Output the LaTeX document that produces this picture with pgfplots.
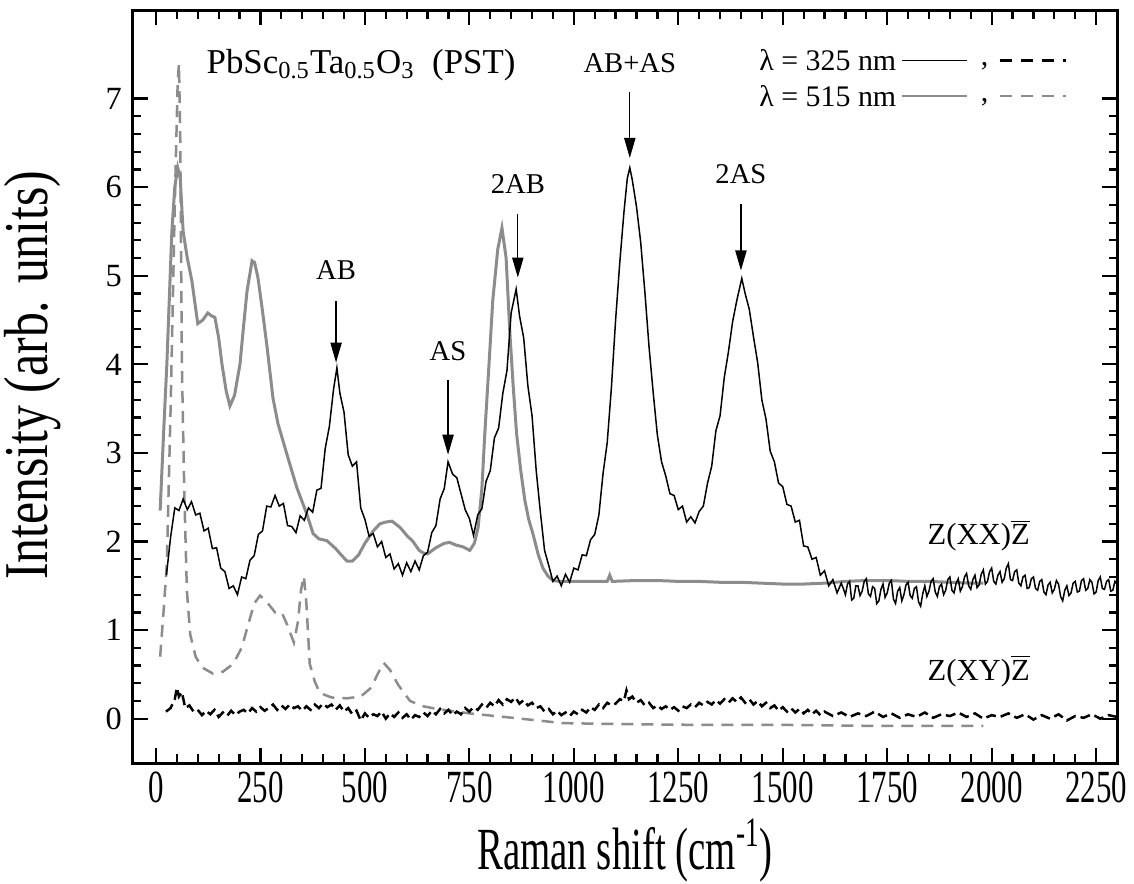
\documentclass[border=0pt]{standalone}
\usepackage{pgfplots}
\pgfplotsset{compat=1.18}
\usetikzlibrary{arrows.meta}
\usepackage{fontspec}
\setmainfont{Liberation Serif}
\newfontfamily\condfont{Liberation Serif}[FakeStretch=0.67]
\newfontfamily\labfont{Liberation Serif}[FakeStretch=0.65]
\newfontfamily\ylabfont{Liberation Serif}[FakeStretch=0.8]
\definecolor{lgray}{RGB}{140,140,140}
\begin{document}
\begin{tikzpicture}
\useasboundingbox (-53.2bp,-48.4bp) rectangle (400.4bp,305.2bp);
\begin{axis}[
  at={(0,0)}, anchor=south west,
  scale only axis, width=393.6bp, height=301.2bp,
  xmin=-55, xmax=2300, ymin=-0.5, ymax=8,
  xtick={0,250,...,2250}, ytick={0,1,...,7},
  minor x tick num=4, minor y tick num=4,
  tick align=inside,
  major tick length=6bp, minor tick length=3.4bp,
  every tick/.style={black, line width=0.9bp},
  axis line style={line width=1.2bp},
  /pgf/number format/assume math mode=true,
  /pgf/number format/1000 sep={},
  xticklabel style={font=\condfont\fontsize{18.5}{20}\selectfont},
  yticklabel style={font=\fontsize{13}{14}\selectfont, xshift=-1bp},
  xlabel={\labfont\fontsize{24}{26}\selectfont Raman shift (cm\textsuperscript{-1})},
  ylabel={\ylabfont\fontsize{25}{27}\selectfont Intensity (arb. units)},
  xlabel style={at={(axis description cs:0.5,-0.116)}, anchor=center},
  ylabel style={at={(axis description cs:-0.102,0.515)}, anchor=center},
  clip=true,
]
% gray solid: lambda = 515 nm, Z(XX)Z
\addplot[lgray, line width=1.2bp] coordinates {
(10,2.35) (18,3.2) (26,4.0) (38,5.5) (45,6.0) (52,6.22) (58,6.1) (65,5.5) (75,5.2) (86,4.94)
(100,4.46) (112,4.5) (124,4.58) (132,4.55) (141,4.53) (150,4.3) (158,4.0) (168,3.7) (177,3.53)
(188,3.65) (201,4.0) (210,4.45) (218,4.83) (230,5.17) (236,5.15) (244,4.98) (255,4.6) (266,4.19)
(280,3.62) (292,3.33) (313,2.99) (337,2.61) (361,2.31) (376,2.09) (390,2.03) (409,2.01) (430,1.92)
(445,1.84) (457,1.78) (470,1.78) (485,1.85) (500,1.98) (520,2.12) (536,2.2) (550,2.22) (565,2.23)
(584,2.16) (600,2.07) (615,2.0) (630,1.9) (640,1.87) (650,1.86) (670,1.93) (690,1.98) (703,1.99)
(718,1.96) (735,1.94) (751,1.9) (762,1.98) (771,2.16) (780,2.6) (787,3.22) (797,4.0) (806,4.72)
(818,5.3) (828,5.54) (838,5.2) (847,4.35) (855,3.75) (863,3.22) (873,2.8) (883,2.46) (892,2.25)
(902,2.09) (915,1.85) (926,1.70) (938,1.61) (950,1.56) (965,1.55) (980,1.55) (1000,1.55)
(1040,1.55) (1080,1.55) (1086,1.62) (1092,1.55) (1150,1.56) (1200,1.56) (1250,1.55) (1300,1.55)
(1350,1.54) (1400,1.54) (1450,1.53) (1500,1.52) (1550,1.52) (1600,1.53) (1650,1.55) (1700,1.56)
(1750,1.56) (1800,1.55) (1850,1.55) (1900,1.54) (1950,1.53) (1980,1.53)
};
% gray dashed: lambda = 515 nm, Z(XY)Z
\addplot[lgray, line width=1bp, dash pattern=on 4.8bp off 3.2bp] coordinates {
(10,0.70) (18,1.2) (26,1.75) (35,3.5) (45,5.8) (52,7.2) (55,7.39) (58,6.6) (62,4.0) (68,2.5)
(74,1.44) (82,0.95) (95,0.7) (110,0.58) (136,0.51) (160,0.53) (185,0.62) (205,0.8) (220,1.05)
(235,1.3) (249,1.39) (265,1.32) (285,1.2) (301,1.2) (315,1.05) (330,0.86) (340,1.1) (347,1.45)
(354,1.61) (360,1.3) (368,0.62) (380,0.42) (392,0.29) (420,0.24) (457,0.23) (490,0.25) (515,0.35)
(530,0.5) (545,0.63) (560,0.55) (580,0.38) (608,0.2) (640,0.14) (672,0.11) (750,0.06) (854,0.01)
(974,-0.05) (1100,-0.06) (1300,-0.07) (1500,-0.07) (1700,-0.08) (1900,-0.08) (1980,-0.08)
};
% black solid: lambda = 325 nm, Z(XX)Z
\addplot[black, line width=0.6bp] coordinates {
(25,1.62) (35,2.05) (45,2.38) (55,2.35) (65,2.48) (75,2.36) (85,2.45) (95,2.30) (105,2.32) (115,2.12)
(125,2.15) (135,1.92) (145,1.93) (155,1.70) (165,1.66) (175,1.47) (185,1.50) (195,1.40) (205,1.60)
(215,1.58) (225,1.79) (235,1.84) (245,2.08) (255,2.12) (265,2.40) (275,2.39) (285,2.52) (295,2.40)
(305,2.43) (315,2.18) (325,2.17) (335,2.10) (345,2.29) (355,2.24) (365,2.38) (375,2.33) (385,2.58)
(395,2.60) (405,3.05) (415,3.30) (425,3.72) (433,3.96) (440,3.68) (450,3.46) (460,2.98) (470,2.85)
(480,2.90) (490,2.38) (500,2.25) (510,2.06) (520,2.09) (530,1.94) (540,2.00) (550,1.82) (560,1.86)
(570,1.69) (580,1.75) (590,1.62) (600,1.76) (610,1.66) (620,1.78) (630,1.68) (640,1.84) (650,1.88)
(660,2.10) (670,2.18) (680,2.48) (690,2.60) (699,2.90) (710,2.76) (720,2.72) (730,2.54) (740,2.36)
(750,2.26) (760,2.07) (770,2.30) (780,2.37) (790,2.68) (800,2.80) (810,3.17) (820,3.28) (830,3.67)
(840,3.93) (850,4.58) (862,4.85) (870,4.55) (880,4.30) (890,3.76) (900,3.42) (910,2.80) (920,2.33)
(930,1.90) (940,1.73) (950,1.55) (960,1.61) (970,1.50) (980,1.63) (990,1.54) (1000,1.70) (1010,1.68)
(1020,1.85) (1030,1.84) (1040,2.02) (1050,2.08) (1060,2.30) (1070,2.77) (1080,3.12) (1090,3.74)
(1100,4.50) (1110,5.15) (1120,5.72) (1128,6.10) (1134,6.22) (1140,6.08) (1150,5.78) (1160,5.38)
(1170,4.82) (1180,4.20) (1190,3.68) (1200,3.20) (1210,2.90) (1220,2.74) (1230,2.54) (1240,2.52)
(1250,2.36) (1260,2.40) (1270,2.22) (1280,2.28) (1290,2.21) (1300,2.34) (1310,2.40) (1320,2.66)
(1330,2.85) (1340,3.25) (1350,3.42) (1360,3.85) (1370,4.14) (1380,4.48) (1390,4.72) (1402,4.97)
(1410,4.80) (1420,4.62) (1430,4.31) (1440,4.02) (1450,3.60) (1460,3.38) (1470,3.02) (1480,2.90)
(1490,2.66) (1500,2.62) (1510,2.42) (1520,2.40) (1530,2.22) (1540,2.24) (1550,1.95) (1560,1.94)
(1570,1.80) (1580,1.82) (1590,1.62) (1600,1.67) (1610,1.50) (1620,1.57) (1630,1.42) (1640,1.53)
(1645,1.47) (1650,1.40) (1655,1.52) (1660,1.55) (1665,1.34) (1670,1.36) (1675,1.50) (1680,1.50)
(1685,1.39) (1690,1.44) (1695,1.55) (1700,1.58) (1705,1.41) (1710,1.38) (1715,1.49) (1720,1.47)
(1725,1.30) (1730,1.33) (1735,1.46) (1740,1.52) (1745,1.37) (1750,1.42) (1755,1.53) (1760,1.56)
(1765,1.35) (1770,1.30) (1775,1.44) (1780,1.48) (1785,1.33) (1790,1.40) (1795,1.51) (1800,1.54)
(1805,1.39) (1810,1.36) (1815,1.47) (1820,1.49) (1825,1.32) (1830,1.27) (1835,1.41) (1840,1.50)
(1845,1.38) (1850,1.44) (1855,1.55) (1860,1.58) (1865,1.43) (1870,1.38) (1875,1.49) (1880,1.52)
(1885,1.40) (1890,1.45) (1895,1.57) (1900,1.60) (1905,1.45) (1910,1.42) (1915,1.53) (1920,1.58)
(1925,1.44) (1930,1.49) (1935,1.60) (1940,1.64) (1945,1.50) (1950,1.46) (1955,1.57) (1960,1.62)
(1965,1.48) (1970,1.51) (1975,1.63) (1980,1.68) (1985,1.52) (1990,1.55) (1995,1.66) (2000,1.70)
(2005,1.55) (2010,1.52) (2015,1.62) (2020,1.66) (2025,1.54) (2030,1.58) (2035,1.70) (2040,1.75)
(2045,1.57) (2050,1.56) (2055,1.66) (2060,1.68) (2065,1.53) (2070,1.50) (2075,1.60) (2080,1.62)
(2085,1.47) (2090,1.48) (2095,1.58) (2100,1.60) (2105,1.47) (2110,1.45) (2115,1.55) (2120,1.57)
(2125,1.43) (2130,1.40) (2135,1.51) (2140,1.54) (2145,1.42) (2150,1.46) (2155,1.56) (2160,1.52)
(2165,1.38) (2170,1.33) (2175,1.45) (2180,1.50) (2185,1.39) (2190,1.42) (2195,1.53) (2200,1.55)
(2205,1.43) (2210,1.44) (2215,1.56) (2220,1.58) (2225,1.45) (2230,1.47) (2235,1.57) (2240,1.54)
(2245,1.41) (2250,1.43) (2255,1.56) (2260,1.60) (2265,1.47) (2270,1.46) (2275,1.55) (2280,1.57)
(2285,1.44) (2290,1.45) (2295,1.55) (2300,1.52)
};
% black dashed: lambda = 325 nm, Z(XY)Z
\addplot[black, line width=1bp, dash pattern=on 4bp off 2bp] coordinates {
(24,0.08) (35,0.12) (45,0.22) (50,0.35) (55,0.25) (62,0.30) (70,0.12) (80,0.15) (90,0.08) (100,0.10)
(110,0.04) (120,0.09) (130,0.05) (140,0.10) (150,0.02) (160,0.07) (170,0.03) (180,0.09) (190,0.04)
(200,0.08) (210,0.10) (220,0.06) (230,0.12) (240,0.08) (250,0.13) (260,0.09) (270,0.12) (280,0.16)
(290,0.10) (300,0.15) (310,0.11) (320,0.16) (330,0.12) (340,0.14) (350,0.09) (360,0.14) (370,0.10)
(380,0.16) (390,0.12) (400,0.17) (410,0.13) (420,0.16) (430,0.10) (440,0.15) (450,0.08) (460,0.12)
(470,0.05) (480,0.09) (490,-0.02) (500,0.06) (510,0.01) (520,0.05) (530,0.03) (540,0.08) (550,0.00)
(560,0.06) (570,0.02) (580,0.07) (590,0.01) (600,0.05) (610,-0.01) (620,0.04) (630,0.02) (640,0.07)
(650,0.03) (660,0.09) (670,0.05) (680,0.11) (690,0.06) (700,0.10) (710,0.04) (720,0.08) (730,0.05)
(740,0.12) (750,0.08) (760,0.13) (770,0.10) (780,0.16) (790,0.12) (800,0.18) (810,0.14) (820,0.21)
(830,0.16) (840,0.22) (850,0.19) (860,0.24) (870,0.17) (880,0.21) (890,0.15) (900,0.18) (910,0.12)
(920,0.14) (930,0.08) (940,0.11) (950,0.05) (960,0.09) (970,0.04) (980,0.07) (990,0.03) (1000,0.08)
(1010,0.05) (1020,0.10) (1030,0.07) (1040,0.13) (1050,0.10) (1060,0.16) (1070,0.12) (1080,0.18)
(1090,0.15) (1100,0.17) (1110,0.22) (1120,0.20) (1126,0.32) (1132,0.22) (1140,0.25) (1150,0.18)
(1160,0.21) (1170,0.15) (1180,0.18) (1190,0.12) (1200,0.15) (1210,0.11) (1220,0.14) (1230,0.10)
(1240,0.13) (1250,0.09) (1260,0.14) (1270,0.12) (1280,0.16) (1290,0.13) (1300,0.18) (1310,0.15)
(1320,0.19) (1330,0.16) (1340,0.21) (1350,0.17) (1360,0.22) (1370,0.18) (1380,0.23) (1390,0.19)
(1400,0.24) (1410,0.18) (1420,0.22) (1430,0.16) (1440,0.20) (1450,0.14) (1460,0.18) (1470,0.12)
(1480,0.15) (1490,0.09) (1500,0.13) (1510,0.08) (1520,0.12) (1530,0.07) (1540,0.11) (1550,0.06)
(1560,0.10) (1570,0.05) (1580,0.09) (1590,0.04) (1600,0.08) (1620,0.03) (1640,0.07) (1660,0.02)
(1680,0.06) (1700,0.03) (1720,0.08) (1740,0.02) (1760,0.06) (1780,0.01) (1800,0.05) (1820,0.02)
(1840,0.07) (1860,0.01) (1880,0.05) (1900,0.03) (1920,0.07) (1940,0.02) (1960,0.06) (1980,0.00)
(2000,0.04) (2020,0.02) (2040,0.06) (2060,0.01) (2080,0.05) (2100,-0.01) (2120,0.04) (2140,0.00)
(2160,0.05) (2180,-0.02) (2200,0.03) (2220,0.01) (2240,0.05) (2260,0.00) (2280,0.04) (2300,0.02)
};
% annotations
\node[anchor=west, font=\fontsize{14}{16}\selectfont, inner sep=0pt] at (axis cs:120,7.38)
  {PbSc\textsubscript{0.5}Ta\textsubscript{0.5}O\textsubscript{3}\ \ (PST)};
\tikzset{pk/.style={font=\fontsize{11.5}{13}\selectfont, inner sep=0pt},
         pa/.style={line width=0.5bp, -{Triangle[length=8bp,width=4.5bp]}}}
\node[pk] at (axis cs:431,5.06) {AB};
\draw[pa] (axis cs:431,4.72) -- (axis cs:431,4.02);
\node[pk] at (axis cs:699,4.15) {AS};
\draw[pa] (axis cs:699,3.82) -- (axis cs:699,2.98);
\node[pk] at (axis cs:866,6.04) {2AB};
\draw[pa] (axis cs:866,5.70) -- (axis cs:866,4.98);
\node[pk] at (axis cs:1134,7.40) {AB+AS};
\draw[pa] (axis cs:1134,7.07) -- (axis cs:1134,6.33);
\node[pk] at (axis cs:1400,6.15) {2AS};
\draw[pa] (axis cs:1400,5.81) -- (axis cs:1400,5.06);
\node[font=\fontsize{12.3}{14}\selectfont, inner sep=0pt] at (axis cs:1969,2.07) {Z(XX)$\overline{\mbox{Z}}$};
\node[font=\fontsize{12.3}{14}\selectfont, inner sep=0pt] at (axis cs:1969,0.54) {Z(XY)$\overline{\mbox{Z}}$};
% legend
\node[anchor=west, font=\fontsize{12}{14}\selectfont, inner sep=0pt] at (axis cs:1443,7.43) {λ = 325 nm};
\node[anchor=west, font=\fontsize{12}{14}\selectfont, inner sep=0pt] at (axis cs:1443,7.03) {λ = 515 nm};
\draw[black, line width=0.5bp] (axis cs:1785,7.43) -- (axis cs:1940,7.43);
\draw[black, line width=1.2bp, dash pattern=on 4.8bp off 3.6bp] (axis cs:2019,7.43) -- (axis cs:2179,7.43);
\draw[lgray, line width=0.6bp] (axis cs:1785,7.03) -- (axis cs:1940,7.03);
\draw[lgray, line width=1bp, dash pattern=on 4.8bp off 3.6bp] (axis cs:2019,7.03) -- (axis cs:2179,7.03);
\node[font=\fontsize{12}{14}\selectfont, inner sep=0pt] at (axis cs:1983,7.36) {,};
\node[font=\fontsize{12}{14}\selectfont, inner sep=0pt] at (axis cs:1983,6.96) {,};
\end{axis}
\end{tikzpicture}
\end{document}
